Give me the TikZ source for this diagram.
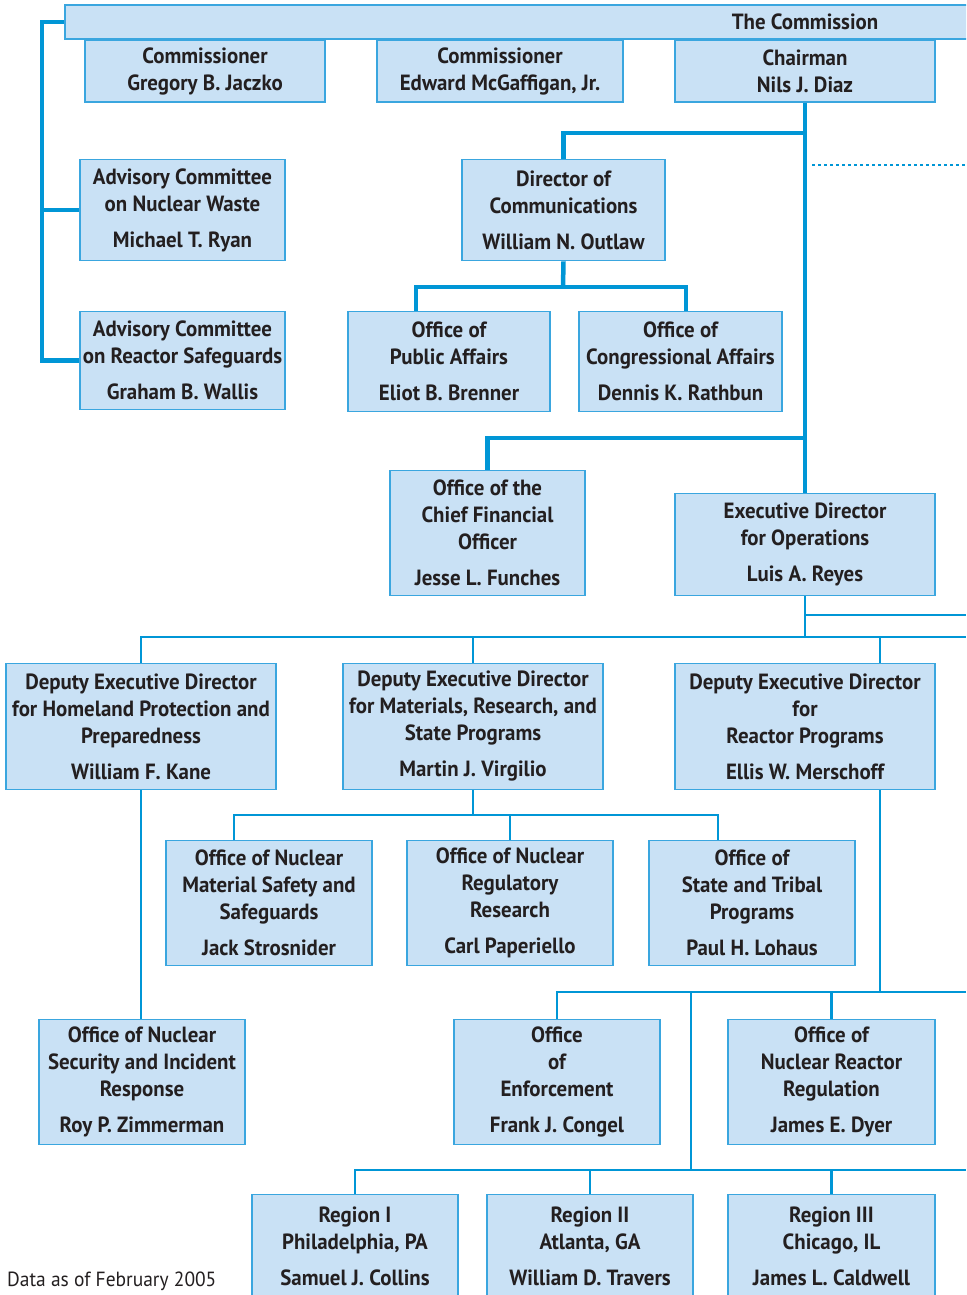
\documentclass[tikz,border=0pt]{standalone}
\usepackage{fontspec}
\setmainfont{PT Sans}[FakeStretch=0.95]
\usetikzlibrary{calc}

\definecolor{nrcline}{HTML}{0096D6}
\definecolor{nrcedge}{HTML}{3AA6DF}
\definecolor{nrcfill}{HTML}{C9E1F5}
\definecolor{nrctext}{HTML}{231F20}

\begin{document}
\begin{tikzpicture}[
        x=1pt,y=-1pt,
        office/.style={
            draw=nrcedge,fill=nrcfill,line width=1.6pt,
            align=center,inner sep=0pt,text=nrctext,
            font=\bfseries\fontsize{22}{27}\selectfont
        },
        trunk/.style={draw=nrcline,line width=4.5pt},
        branch/.style={draw=nrcline,line width=2.6pt},
        dotline/.style={draw=nrcline,line width=2.6pt,dash pattern=on 2.6pt off 3.4pt}
    ]
    \clip (0,0) rectangle (966,1295);

    \node[office,minimum width=1480,minimum height=34] (commission) at (805,22) {The Commission};
    \node[office,minimum width=240,minimum height=62] (jaczko) at (205,71) {Commissioner\\Gregory B. Jaczko};
    \node[office,minimum width=246,minimum height=62] (mcgaffigan) at (500,71) {Commissioner\\Edward McGaffigan, Jr.};
    \node[office,minimum width=260,minimum height=62] (chairman) at (805,71) {Chairman\\Nils J. Diaz};

    \node[office,minimum width=205,minimum height=101] (acnw) at (182.5,210) {Advisory Committee\\on Nuclear Waste\\[9pt]Michael T. Ryan};
    \node[office,minimum width=205,minimum height=98] (acrs) at (182.5,360.5) {Advisory Committee\\on Reactor Safeguards\\[9pt]Graham B. Wallis};
    \node[office,minimum width=203,minimum height=101] (dircomm) at (563.5,210) {Director of\\Communications\\[9pt]William N. Outlaw};
    \node[office,minimum width=202,minimum height=100] (pubaff) at (449,361.5) {Office of\\Public Affairs\\[9pt]Eliot B. Brenner};
    \node[office,minimum width=203,minimum height=100] (congaff) at (680.5,361.5) {Office of\\Congressional Affairs\\[9pt]Dennis K. Rathbun};
    \node[office,minimum width=195,minimum height=125] (cfo) at (487.5,533) {Office of the\\Chief Financial\\Officer\\[9pt]Jesse L. Funches};
    \node[office,minimum width=260,minimum height=102] (edo) at (805,544.5) {Executive Director\\for Operations\\[9pt]Luis A. Reyes};

    \node[office,minimum width=270,minimum height=126] (dedhpp) at (141,726.5) {Deputy Executive Director\\for Homeland Protection and\\Preparedness\\[9pt]William F. Kane};
    \node[office,minimum width=260,minimum height=126] (dedmrs) at (473,726.5) {Deputy Executive Director\\for Materials, Research, and\\State Programs\\[9pt]Martin J. Virgilio};
    \node[office,minimum width=260,minimum height=126] (dedrp) at (805,726.5) {Deputy Executive Director\\for\\Reactor Programs\\[9pt]Ellis W. Merschoff};

    \node[office,minimum width=206,minimum height=125] (nmss) at (269,903) {Office of Nuclear\\Material Safety and\\Safeguards\\[9pt]Jack Strosnider};
    \node[office,minimum width=206,minimum height=125] (res) at (510,903) {Office of Nuclear\\Regulatory\\Research\\[9pt]Carl Paperiello};
    \node[office,minimum width=206,minimum height=125] (stp) at (752,903) {Office of\\State and Tribal\\Programs\\[9pt]Paul H. Lohaus};

    \node[office,minimum width=206,minimum height=125] (nsir) at (142,1082) {Office of Nuclear\\Security and Incident\\Response\\[9pt]Roy P. Zimmerman};
    \node[office,minimum width=206,minimum height=125] (oe) at (557,1082) {Office\\of\\Enforcement\\[9pt]Frank J. Congel};
    \node[office,minimum width=207,minimum height=125] (nrr) at (831.5,1082) {Office of\\Nuclear Reactor\\Regulation\\[9pt]James E. Dyer};

    \node[office,minimum width=206,minimum height=103] (region1) at (355,1246) {Region I\\Philadelphia, PA\\[9pt]Samuel J. Collins};
    \node[office,minimum width=206,minimum height=103] (region2) at (590,1246) {Region II\\Atlanta, GA\\[9pt]William D. Travers};
    \node[office,minimum width=207,minimum height=103] (region3) at (831.5,1246) {Region III\\Chicago, IL\\[9pt]James L. Caldwell};

    \node[anchor=west,inner sep=0pt,text=nrctext,font=\fontsize{20.5}{24}\selectfont] (asof) at (7,1281) {Data as of February 2005};

    \coordinate (jleft) at (42,22);
    \coordinate (jcomm) at (806,133);
    \coordinate (dotend) at (966,165);
    \coordinate (jpa) at (563,287);
    \coordinate (jcfo) at (806,438);
    \coordinate (edoend) at (966,615);
    \coordinate (dedend) at (966,637);
    \coordinate (jmrs) at (475,815);
    \coordinate (jrp) at (880,992);
    \coordinate (rpend) at (966,992);
    \coordinate (jreg) at (691,992);
    \coordinate (regend) at (966,1170);

    \draw[trunk] (commission.west) -- (jleft) |- (acrs.west);
    \draw[trunk] (jleft |- acnw.west) -- (acnw.west);
    \draw[trunk] (chairman.south) -- (edo.north);
    \draw[dotline] ($(chairman.south |- dotend)+(7,0)$) -- (dotend);
    \draw[trunk] (jcomm) -| (dircomm.north);
    \draw[trunk] (dircomm.south) -- (jpa);
    \draw[trunk] ([xshift=-33]pubaff.north) |- (jpa) -| ([xshift=5.5]congaff.north);
    \draw[trunk] (jcfo) -| (cfo.north);

    \draw[branch] (edo.south) -- (edo.south |- dedend);
    \draw[branch] (edo.south |- edoend) -- (edoend);
    \draw[branch] (dedhpp.north) |- (dedend);
    \draw[branch] (dedmrs.north) -- (dedmrs.north |- dedend);
    \draw[branch] ([xshift=75]dedrp.north) -- ([xshift=75]dedrp.north |- dedend);

    \draw[branch] (dedhpp.south) -- (dedhpp.south |- nsir.north);
    \draw[branch] (dedmrs.south) -- (dedmrs.south |- jmrs);
    \draw[branch] ([xshift=-35]nmss.north) |- (jmrs) -| ([xshift=-34]stp.north);
    \draw[branch] (res.north) -- (res.north |- jmrs);

    \draw[branch] ([xshift=75]dedrp.south) -- (jrp);
    \draw[branch] (oe.north) |- (rpend);
    \draw[branch] (nrr.north) -- (nrr.north |- rpend);
    \draw[branch] (jreg) -- (jreg |- regend);
    \draw[branch] (region1.north) |- (regend);
    \draw[branch] (region2.north) -- (region2.north |- regend);
    \draw[branch] (region3.north) -- (region3.north |- regend);
\end{tikzpicture}
\end{document}
